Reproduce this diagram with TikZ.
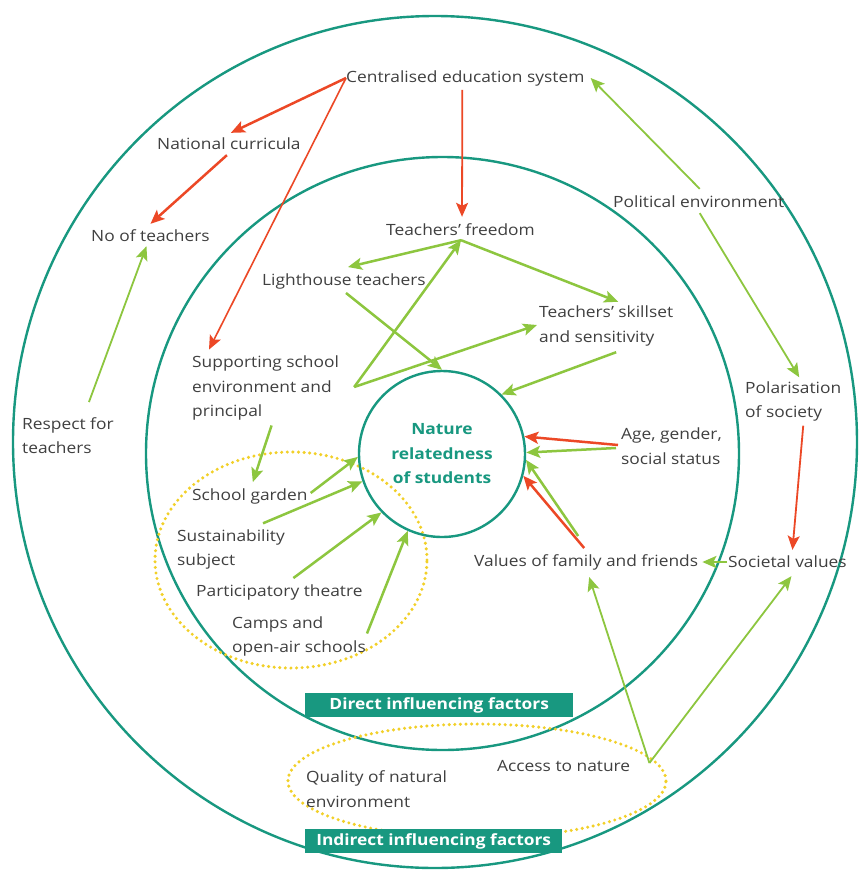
\documentclass[tikz,border=0pt]{standalone}
\usepackage{fontspec}
\setmainfont{Open Sans}[FakeStretch=1.12]
\usetikzlibrary{arrows.meta,calc}
\definecolor{teal1}{RGB}{24,152,128}
\definecolor{grn}{RGB}{141,198,63}
\definecolor{rd}{RGB}{236,72,38}
\definecolor{ylw}{RGB}{242,208,40}
\definecolor{txt}{RGB}{64,64,64}
\begin{document}
\begin{tikzpicture}[x=1pt,y=-1pt,
  lbl/.style={anchor=west,inner sep=0pt,align=left,text=txt,font=\fontsize{15.5}{24.5}\selectfont},
  ring/.style={draw=teal1,line width=2.4pt},
  dots/.style={draw=ylw,line width=3.4pt,line cap=round,dash pattern=on 0pt off 5.6pt},
  gar/.style={draw=grn,line width=2.5pt,-{Stealth[length=14pt,width=12pt,inset=3pt]}},
  rar/.style={draw=rd,line width=2.5pt,-{Stealth[length=14pt,width=12pt,inset=3pt]}},
  tagbox/.style={fill=teal1,text=white,font=\bfseries\fontsize{15.5}{18}\selectfont,inner sep=0pt,anchor=north west,minimum height=24pt}
]
\useasboundingbox (0,0) rectangle (862,871);
\fill[white] (0,0) rectangle (862,871);
% rings
\draw[ring] (435,442) ellipse [x radius=422pt, y radius=426pt];
\draw[ring] (442.5,453.5) circle [radius=296.5pt];
% dotted groupings
\draw[dots] (291,560) ellipse [x radius=136pt, y radius=108pt];
\draw[dots] (477,781) ellipse [x radius=189pt, y radius=57pt];
% central node
\node[circle,draw=teal1,line width=2.4pt,minimum size=166pt,inner sep=0pt,align=center,text=teal1,
  font=\bfseries\fontsize{15.5}{24.5}\selectfont] (nat) at (442,454) {Nature\\relatedness\\of students};
% labels
\node[lbl] (cent) at (346,78) {Centralised education system};
\node[lbl] (natc) at (157,144) {National curricula};
\node[lbl] (noft) at (91,236) {No of teachers};
\node[lbl] (pol) at (613,202) {Political environment};
\node[lbl] (tf) at (386,230) {Teachers’ freedom};
\node[lbl] (lh) at (262,281) {Lighthouse teachers};
\node[lbl] (sk) at (539,326) {Teachers’ skillset\\and sensitivity};
\node[lbl] (sup) at (192,388) {Supporting school\\environment and\\principal};
\node[lbl] (resp) at (22,435.5) {Respect for\\teachers};
\node[lbl] (polar) at (745,401.5) {Polarisation\\of society};
\node[lbl] (age) at (621,446) {Age, gender,\\social status};
\node[lbl] (sg) at (192,496) {School garden};
\node[lbl] (sus) at (177,549.5) {Sustainability\\subject};
\node[lbl] (part) at (196,592) {Participatory theatre};
\node[lbl] (camps) at (232,636.5) {Camps and\\open-air schools};
\node[lbl] (vff) at (474,562) {Values of family and friends};
\node[lbl] (sv) at (728,562) {Societal values};
\node[lbl] (acc) at (497,766) {Access to nature};
\node[lbl] (qual) at (306,789) {Quality of natural\\environment};
\node[tagbox,minimum width=268pt] (dir) at (305,693) {Direct influencing factors};
\node[tagbox,minimum width=257pt] (ind) at (305,829) {Indirect influencing factors};
% red connectors
\draw[rar] (cent.west) -- ($(natc.north)+(2,-5)$);
\draw[rar,line width=1.6pt] (cent.west) -- ($(sup.north west)+(17,-6)$);
\draw[rar,line width=1.8pt] ($(cent.south)+(-3,4)$) -- ($(tf.north)+(1.5,-7)$);
\draw[rar] ($(natc.south)+(-2,5)$) -- ($(noft.north)+(0,-6)$);
\draw[rar,line width=1.8pt] ($(polar.south)+(10,4)$) -- ($(sv.north)+(5,-6)$);
\draw[rar] ($(age.west)+(-3,-1)$) -- (nat.12);
\draw[rar] ($(vff.north)+(-2,-6)$) -- (nat.-15);
% green connectors
\coordinate (tfb) at ($(tf.south)+(0.5,4)$);
\coordinate (supo) at ($(sup.east)+(15,-1)$);
\coordinate (acco) at ($(acc.east)+(19,-3)$);
\draw[gar,line width=1.8pt] ($(pol.north)+(1,-7)$) -- ($(cent.east)+(6,0)$);
\draw[gar,line width=1.8pt] ($(pol.south)+(1,5)$) -- ($(polar.north)+(6,-4)$);
\draw[gar,line width=1.8pt] ($(resp.north)+(21,-15)$) -- ($(noft.south)+(-4,4)$);
\draw[gar] (tfb) -- ($(lh.north)+(4,-6)$);
\draw[gar] (tfb) -- ($(sk.north)+(12,-4)$);
\draw[gar] (supo) -- (tfb);
\draw[gar] (supo) -- ($(sk.west)+(-2,-1)$);
\draw[gar] ($(lh.south)+(2,4)$) -- (nat.90);
\draw[gar] ($(sk.south)+(10,6)$) -- (nat.45);
\draw[gar] ($(sup.south)+(6,5)$) -- ($(sg.north)+(3,-6)$);
\draw[gar] ($(sg.east)+(3,-3)$) -- (nat.182);
\draw[gar] ($(sus.north)+(32,-6)$) -- (nat.199.5);
\draw[gar] ($(part.north)+(14,-6)$) -- (nat.224);
\draw[gar] ($(camps.east)+(1,-3)$) -- (nat.246);
\draw[gar] ($(age.west)+(-5,2)$) -- (nat.1);
\draw[gar] ($(vff.north)+(-8,-18)$) -- (nat.-4);
\draw[gar] ($(sv.west)+(-1,0)$) -- ($(vff.east)+(4,0)$);
\draw[gar,line width=1.8pt] (acco) -- ($(vff.south)+(3,7)$);
\draw[gar,line width=1.8pt] (acco) -- ($(sv.south)+(4,8)$);
\end{tikzpicture}
\end{document}
